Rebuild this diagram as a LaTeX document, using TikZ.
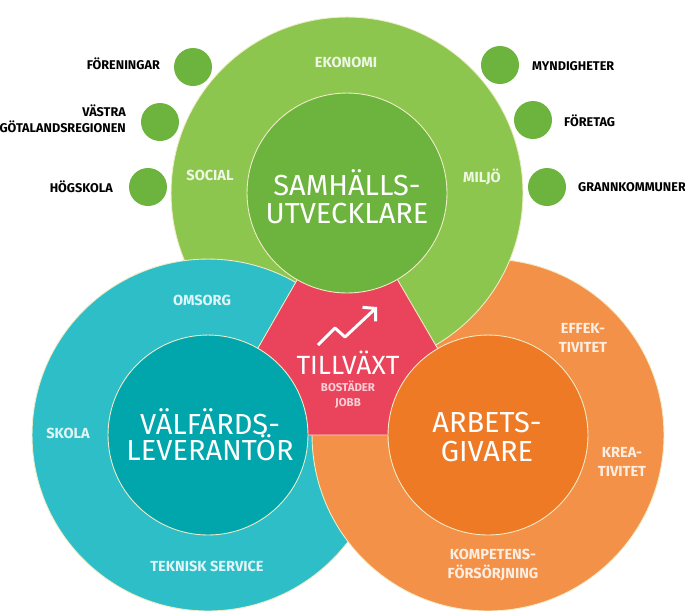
\documentclass[tikz,border=0pt]{standalone}
\usepackage{fontspec}
\setmainfont{Fira Sans}
\usepackage{tikz}
\usetikzlibrary{arrows.meta, positioning, calc}
\definecolor{samhGreen}{RGB}{141, 198, 79}
\definecolor{samhDark}{RGB}{108, 180, 62}
\definecolor{welfTeal}{RGB}{46, 190, 199}
\definecolor{welfDark}{RGB}{0, 166, 172}
\definecolor{arbOrange}{RGB}{243, 145, 72}
\definecolor{arbDark}{RGB}{239, 122, 38}
\definecolor{tillRed}{RGB}{234, 67, 92}
\definecolor{edgeColor}{RGB}{240, 236, 200}

\begin{document}
\begin{tikzpicture}[
    x=0.02cm, y=0.02cm,
    ring/.style={
        circle,
        fill=#1,
        draw=edgeColor,
        line width=0.5pt,
        minimum size=7.04cm,
        inner sep=0pt
    },
    core/.style={
        circle,
        fill=#1,
        draw=edgeColor,
        line width=0.5pt,
        minimum size=4cm,
        inner sep=0pt,
        text=white,
        align=center,
        font=\fontsize{16.5}{16}\selectfont
    },
    dot/.style={circle, fill=samhDark, minimum size=0.76cm, inner sep=0pt},
    tag/.style={font=\fontsize{7.2}{9}\selectfont\bfseries, align=#1},
    facet/.style={text=white!85!#1, font=\fontsize{8.3}{10.5}\selectfont\bfseries, align=center}
]
    % Frame
    \fill[white] (0,0) rectangle (685,-610);
    \useasboundingbox (0,0) rectangle (685,-610);

    % Partners
    \foreach \n/\x/\y in {foren/193/67, vastra/160/122, hogsk/148/187,
                          myndig/500/65, foretag/533/120, grann/547/187} {
        \node[dot] (\n) at (\x,-\y) {};
    }
    \node[tag=right, anchor=east] at (166,-64) {FÖRENINGAR};
    \node[tag=right, anchor=east] at (132,-119) {VÄSTRA\\GÖTALANDSREGIONEN};
    \node[tag=right, anchor=east] at (119,-187) {HÖGSKOLA};
    \node[tag=left, anchor=west] at (526,-66) {MYNDIGHETER};
    \node[tag=left, anchor=west] at (558,-121) {FÖRETAG};
    \node[tag=left, anchor=west] at (572,-187) {GRANNKOMMUNER};

    % Roles
    \node[ring=welfTeal] (teal) at (208,-435) {};
    \node[ring=arbOrange] (orange) at (488,-435) {};
    \node[ring=samhGreen] (green) at (347,-193) {};
    \begin{scope}
        \clip (green.center) circle (3.54cm);
        \fill[welfTeal, draw=edgeColor, line width=0.5pt] (teal.center) circle (3.52cm);
    \end{scope}

    % Growth
    \fill[tillRed, draw=edgeColor, line width=0.5pt] (green.center) -- (teal.center) -- (orange.center) -- cycle;

    \node[core=samhDark] (samh) at (green.center) {};
    \node[core=welfDark] (welf) at (teal.center) {};
    \node[core=arbDark] (arb) at (orange.center) {};
    \node[text=white, align=center, font=\fontsize{16.5}{16}\selectfont] at (347,-197) {SAMHÄLLS-\\UTVECKLARE};
    \node[text=white, align=center, font=\fontsize{16.5}{15}\selectfont] at (210,-435) {VÄLFÄRDS-\\LEVERANTÖR};
    \node[text=white, align=center, font=\fontsize{16.5}{16}\selectfont] at (487,-437) {ARBETS-\\GIVARE};

    % Aspects
    \node[facet=samhGreen] (ekonomi) at (346,-62) {EKONOMI};
    \node[facet=samhGreen] (social) at (210,-175) {SOCIAL};
    \node[facet=samhGreen] (miljo) at (482,-177) {MILJÖ};
    \node[facet=welfTeal] (omsorg) at (202,-300) {OMSORG};
    \node[facet=welfTeal] (skola) at (68,-433) {SKOLA};
    \node[facet=welfTeal] (teknisk) at (207,-566) {TEKNISK SERVICE};
    \node[facet=arbOrange] (effek) at (583,-338) {EFFEK-\\TIVITET};
    \node[facet=arbOrange] (krea) at (622,-462) {KREA-\\TIVITET};
    \node[facet=arbOrange] (kompet) at (493,-565) {KOMPETENS-\\FÖRSÖRJNING};

    % Trend
    \coordinate (trendA) at (318,-345);
    \coordinate (trendB) at (335,-328);
    \coordinate (trendC) at (345,-337);
    \coordinate (trendD) at (377,-307);
    \draw[white, line width=1.7pt, line join=round, -{Straight Barb[length=5pt, width=11pt]}]
        (trendA) -- (trendB) -- (trendC) -- (trendD);
    \node[text=white, font=\fontsize{15}{15}\selectfont] (tillvaxt) at (348,-363) {TILLVÄXT};
    \node[text=white!75!tillRed, align=center, font=\fontsize{6.5}{8.5}\selectfont\bfseries] (bostad) at (348,-395) {BOSTÄDER\\JOBB};

\end{tikzpicture}
\end{document}
